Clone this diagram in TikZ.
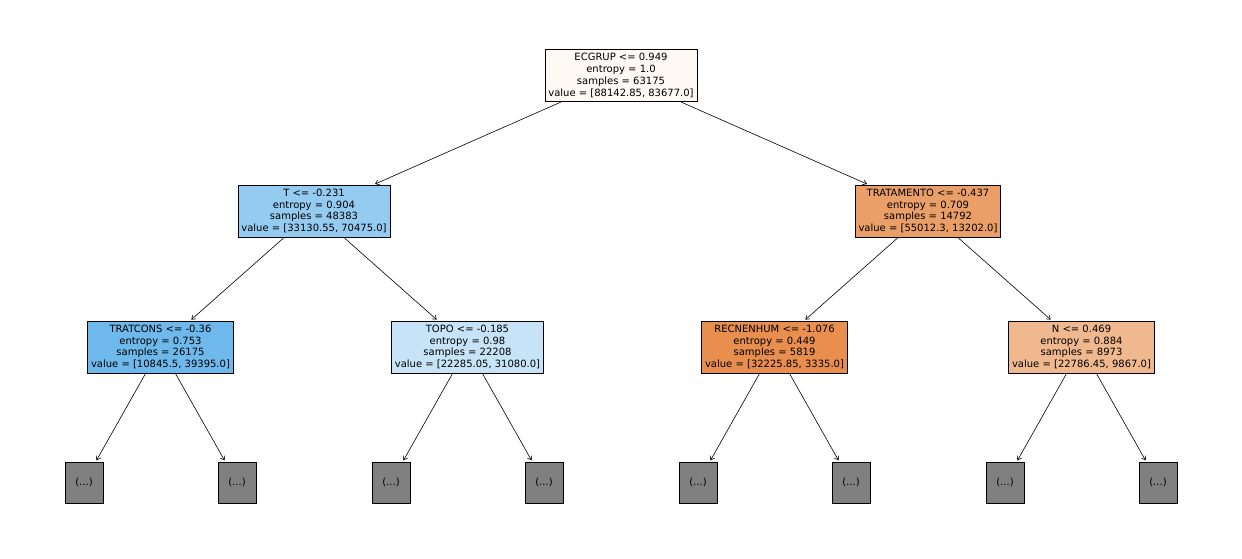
\documentclass[tikz,border=0pt]{standalone}
\usepackage{fontspec}
\setmainfont{DejaVu Sans}
\usetikzlibrary{arrows.meta}
\definecolor{cRoot}{HTML}{FEF9F5}
\definecolor{cT}{HTML}{96CBF1}
\definecolor{cTRAT}{HTML}{EB9F68}
\definecolor{cTRATC}{HTML}{6FB8EC}
\definecolor{cTOPO}{HTML}{C7E3F8}
\definecolor{cREC}{HTML}{E88E4E}
\definecolor{cN}{HTML}{F0B88F}
\definecolor{cLeaf}{HTML}{808080}
\tikzset{
  tree/.style={draw=black, line width=0.6pt, align=center, inner xsep=3.3pt, inner ysep=4pt,
    font=\fontsize{10}{11.8}\selectfont},
  leafbox/.style={draw=black, line width=0.6pt, fill=cLeaf, minimum width=38pt, minimum height=41pt,
    font=\fontsize{10}{11.8}\selectfont},
  edge/.style={line width=0.6pt, -{Straight Barb[length=3.5pt,width=5pt]}, shorten >=1.5pt, shorten <=0.5pt}
}
\begin{document}
\begin{tikzpicture}[x=1pt,y=-1pt]
\useasboundingbox (0,0) rectangle (1242,558);
\node[tree, fill=cRoot] (root) at (621,75.5) {ECGRUP <= 0.949\\entropy = 1.0\\samples = 63175\\value = [88142.85, 83677.0]};
\node[tree, fill=cT] (t) at (314,211) {T <= -0.231\\entropy = 0.904\\samples = 48383\\value = [33130.55, 70475.0]};
\node[tree, fill=cTRAT] (trat) at (928,211) {TRATAMENTO <= -0.437\\entropy = 0.709\\samples = 14792\\value = [55012.3, 13202.0]};
\node[tree, fill=cTRATC] (tratc) at (160.5,347) {TRATCONS <= -0.36\\entropy = 0.753\\samples = 26175\\value = [10845.5, 39395.0]};
\node[tree, fill=cTOPO] (topo) at (467.5,347) {TOPO <= -0.185\\entropy = 0.98\\samples = 22208\\value = [22285.05, 31080.0]};
\node[tree, fill=cREC] (rec) at (774.5,347) {RECNENHUM <= -1.076\\entropy = 0.449\\samples = 5819\\value = [32225.85, 3335.0]};
\node[tree, fill=cN] (n) at (1081.5,347) {N <= 0.469\\entropy = 0.884\\samples = 8973\\value = [22786.45, 9867.0]};
\node[leafbox] (l1) at (84,482.5) {(...)};
\node[leafbox] (l2) at (237,482.5) {(...)};
\node[leafbox] (l3) at (391,482.5) {(...)};
\node[leafbox] (l4) at (544,482.5) {(...)};
\node[leafbox] (l5) at (698,482.5) {(...)};
\node[leafbox] (l6) at (851,482.5) {(...)};
\node[leafbox] (l7) at (1005,482.5) {(...)};
\node[leafbox] (l8) at (1158,482.5) {(...)};
\draw[edge] (root) -- (t);
\draw[edge] (root) -- (trat);
\draw[edge] (t) -- (tratc);
\draw[edge] (t) -- (topo);
\draw[edge] (trat) -- (rec);
\draw[edge] (trat) -- (n);
\draw[edge] (tratc) -- (l1);
\draw[edge] (tratc) -- (l2);
\draw[edge] (topo) -- (l3);
\draw[edge] (topo) -- (l4);
\draw[edge] (rec) -- (l5);
\draw[edge] (rec) -- (l6);
\draw[edge] (n) -- (l7);
\draw[edge] (n) -- (l8);
\end{tikzpicture}
\end{document}
